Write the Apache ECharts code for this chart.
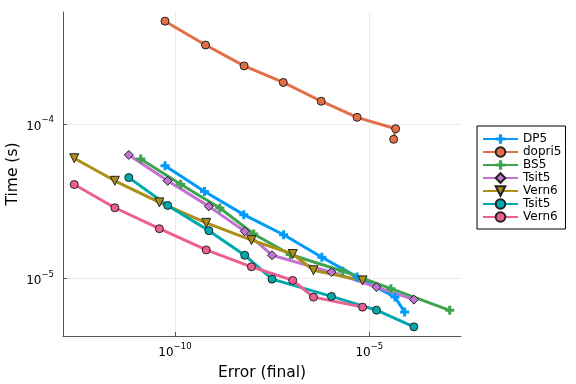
<!DOCTYPE html>
<html><head><meta charset="utf-8">
<script src="https://cdn.jsdelivr.net/npm/echarts@6/dist/echarts.min.js"></script>
<style>html,body{margin:0;padding:0;background:#fff}#c{width:576px;height:384px}</style>
</head><body><div id="c"></div>
<script>
// ---- data (error = final error, time in seconds) ----
const legendNames = ['DP5', 'dopri5', 'BS5', 'Tsit5', 'Vern6', 'Tsit5', 'Vern6'];
const dp5Err    = [5.55e-11, 5.77e-10, 5.87e-9, 6.24e-8, 6.01e-7, 4.84e-6, 4.56e-5, 8.09e-5];
const dp5Time   = [5.38e-5, 3.66e-5, 2.59e-5, 1.92e-5, 1.372e-5, 1.023e-5, 7.57e-6, 6.06e-6];
const dopri5Err  = [5.55e-11, 6.12e-10, 6.01e-9, 6.12e-8, 5.78e-7, 4.84e-6, 4.75e-5, 4.23e-5];
const dopri5Time = [4.64e-4, 3.25e-4, 2.38e-4, 1.86e-4, 1.406e-4, 1.105e-4, 9.33e-5, 7.97e-5];
const bs5Err    = [1.32e-11, 1.40e-10, 1.43e-9, 1.06e-8, 9.27e-8, 2.08e-6, 3.60e-5, 1.17e-3];
const bs5Time   = [5.94e-5, 4.08e-5, 2.86e-5, 1.94e-5, 1.43e-5, 1.114e-5, 8.59e-6, 6.22e-6];
const tsit5Err  = [6.50e-12, 6.50e-11, 7.45e-10, 6.24e-9, 3.14e-8, 1.06e-6, 1.53e-5, 1.40e-4];
const tsit5Time = [6.31e-5, 4.29e-5, 2.93e-5, 2.02e-5, 1.414e-5, 1.099e-5, 8.79e-6, 7.30e-6];
const vern6Err  = [2.57e-13, 2.84e-12, 3.98e-11, 6.38e-10, 9.27e-9, 1.07e-7, 3.66e-7, 6.70e-6];
const vern6Time = [6.01e-5, 4.29e-5, 3.11e-5, 2.29e-5, 1.77e-5, 1.44e-5, 1.13e-5, 9.71e-6];
const tsit5bErr  = [6.50e-12, 6.50e-11, 7.45e-10, 6.24e-9, 3.14e-8, 1.06e-6, 1.53e-5, 1.40e-4];
const tsit5bTime = [4.50e-5, 2.97e-5, 2.04e-5, 1.414e-5, 9.90e-6, 7.65e-6, 6.23e-6, 4.86e-6];
const vern6bErr  = [2.57e-13, 2.84e-12, 3.98e-11, 6.38e-10, 9.27e-9, 1.07e-7, 3.66e-7, 6.70e-6];
const vern6bTime = [4.06e-5, 2.87e-5, 2.10e-5, 1.53e-5, 1.19e-5, 9.71e-6, 7.57e-6, 6.52e-6];
const xTickValues = [1e-10, 1e-5];
const yTickValues = [1e-5, 1e-4];

// ---- styling ----
const FONT = 'DejaVu Sans';
const colors = ['#009AFA', '#E36F47', '#3EA44E', '#C371D2', '#AC8E18', '#00A9AD', '#ED5E93'];
const PLUS = 'path://M3,0H6V3H9V6H6V9H3V6H0V3H3Z';
const markers = [
  {symbol: PLUS, size: 9, rotate: 0, border: 0},
  {symbol: 'circle', size: 8, rotate: 0, border: 1},
  {symbol: PLUS, size: 9, rotate: 0, border: 0},
  {symbol: 'diamond', size: 9, rotate: 0, border: 1},
  {symbol: 'triangle', size: 9, rotate: 180, border: 1},
  {symbol: 'circle', size: 8, rotate: 0, border: 1},
  {symbol: 'circle', size: 8, rotate: 0, border: 1}
];
const errs = [dp5Err, dopri5Err, bs5Err, tsit5Err, vern6Err, tsit5bErr, vern6bErr];
const times = [dp5Time, dopri5Time, bs5Time, tsit5Time, vern6Time, tsit5bTime, vern6bTime];
const ids = legendNames.map((n, i) => n + '#' + i);

const lx = [].concat(...errs).map(Math.log10);
const ly = [].concat(...times).map(Math.log10);
function lim(a) { const mn = Math.min(...a), mx = Math.max(...a), m = 0.03 * (mx - mn); return [mn - m, mx + m]; }
const xl = lim(lx), yl = lim(ly);

function expLabel(v) {
  const e = Math.round(v);
  return '{b|10}{s|' + (e < 0 ? '\u2212' + (-e) : e) + '}';
}
const rich = {
  b: {fontSize: 12, fontFamily: FONT, color: '#000', lineHeight: 17, verticalAlign: 'bottom'},
  s: {fontSize: 8.5, fontFamily: FONT, color: '#000', lineHeight: 10, verticalAlign: 'top'}
};
const axisCommon = {
  type: 'value',
  axisLine: {show: true, onZero: false, lineStyle: {color: '#555', width: 1}},
  axisTick: {show: true, inside: true, length: 4, lineStyle: {color: '#555'}},
  splitLine: {show: true, lineStyle: {color: '#ebebeb', width: 1}},
  nameLocation: 'middle',
  nameMoveOverlap: false,
  nameTextStyle: {fontSize: 15.5, fontFamily: FONT, color: '#000'}
};

const series = ids.map((id, i) => ({
  type: 'line', name: id,
  data: errs[i].map((e, k) => [Math.log10(e), Math.log10(times[i][k])]),
  symbol: markers[i].symbol, symbolSize: markers[i].size, symbolRotate: markers[i].rotate,
  showAllSymbol: true,
  lineStyle: {width: 3, color: colors[i]},
  itemStyle: {color: colors[i], borderColor: '#222', borderWidth: markers[i].border},
  emphasis: {disabled: true},
  silent: true
}));

const chart = echarts.init(document.getElementById('c'), null, {renderer: 'canvas'});
chart.setOption({
  animation: false,
  backgroundColor: '#fff',
  grid: {left: 63, right: 115, top: 12, bottom: 48, containLabel: false, outerBoundsMode: 'none'},
  xAxis: Object.assign({}, axisCommon, {
    min: xl[0], max: xl[1],
    name: 'Error (final)', nameGap: 29,
    axisTick: Object.assign({}, axisCommon.axisTick, {customValues: xTickValues.map(Math.log10)}),
    axisLabel: {customValues: xTickValues.map(Math.log10), formatter: expLabel, rich: rich, margin: 6}
  }),
  yAxis: Object.assign({}, axisCommon, {
    min: yl[0], max: yl[1],
    name: 'Time (s)', nameGap: 42, nameRotate: 90,
    axisTick: Object.assign({}, axisCommon.axisTick, {customValues: yTickValues.map(Math.log10)}),
    axisLabel: {customValues: yTickValues.map(Math.log10), formatter: expLabel, rich: rich, margin: 9}
  }),
  legend: {
    orient: 'vertical', left: 477, top: 126,
    itemWidth: 35, itemHeight: 12, itemGap: 1,
    padding: [7, 4, 6, 5],
    borderColor: '#000', borderWidth: 1,
    textStyle: {fontSize: 12, fontFamily: FONT, color: '#000'},
    formatter: name => name.split('#')[0],
    data: ids
  },
  series: series
});
</script></body></html>
